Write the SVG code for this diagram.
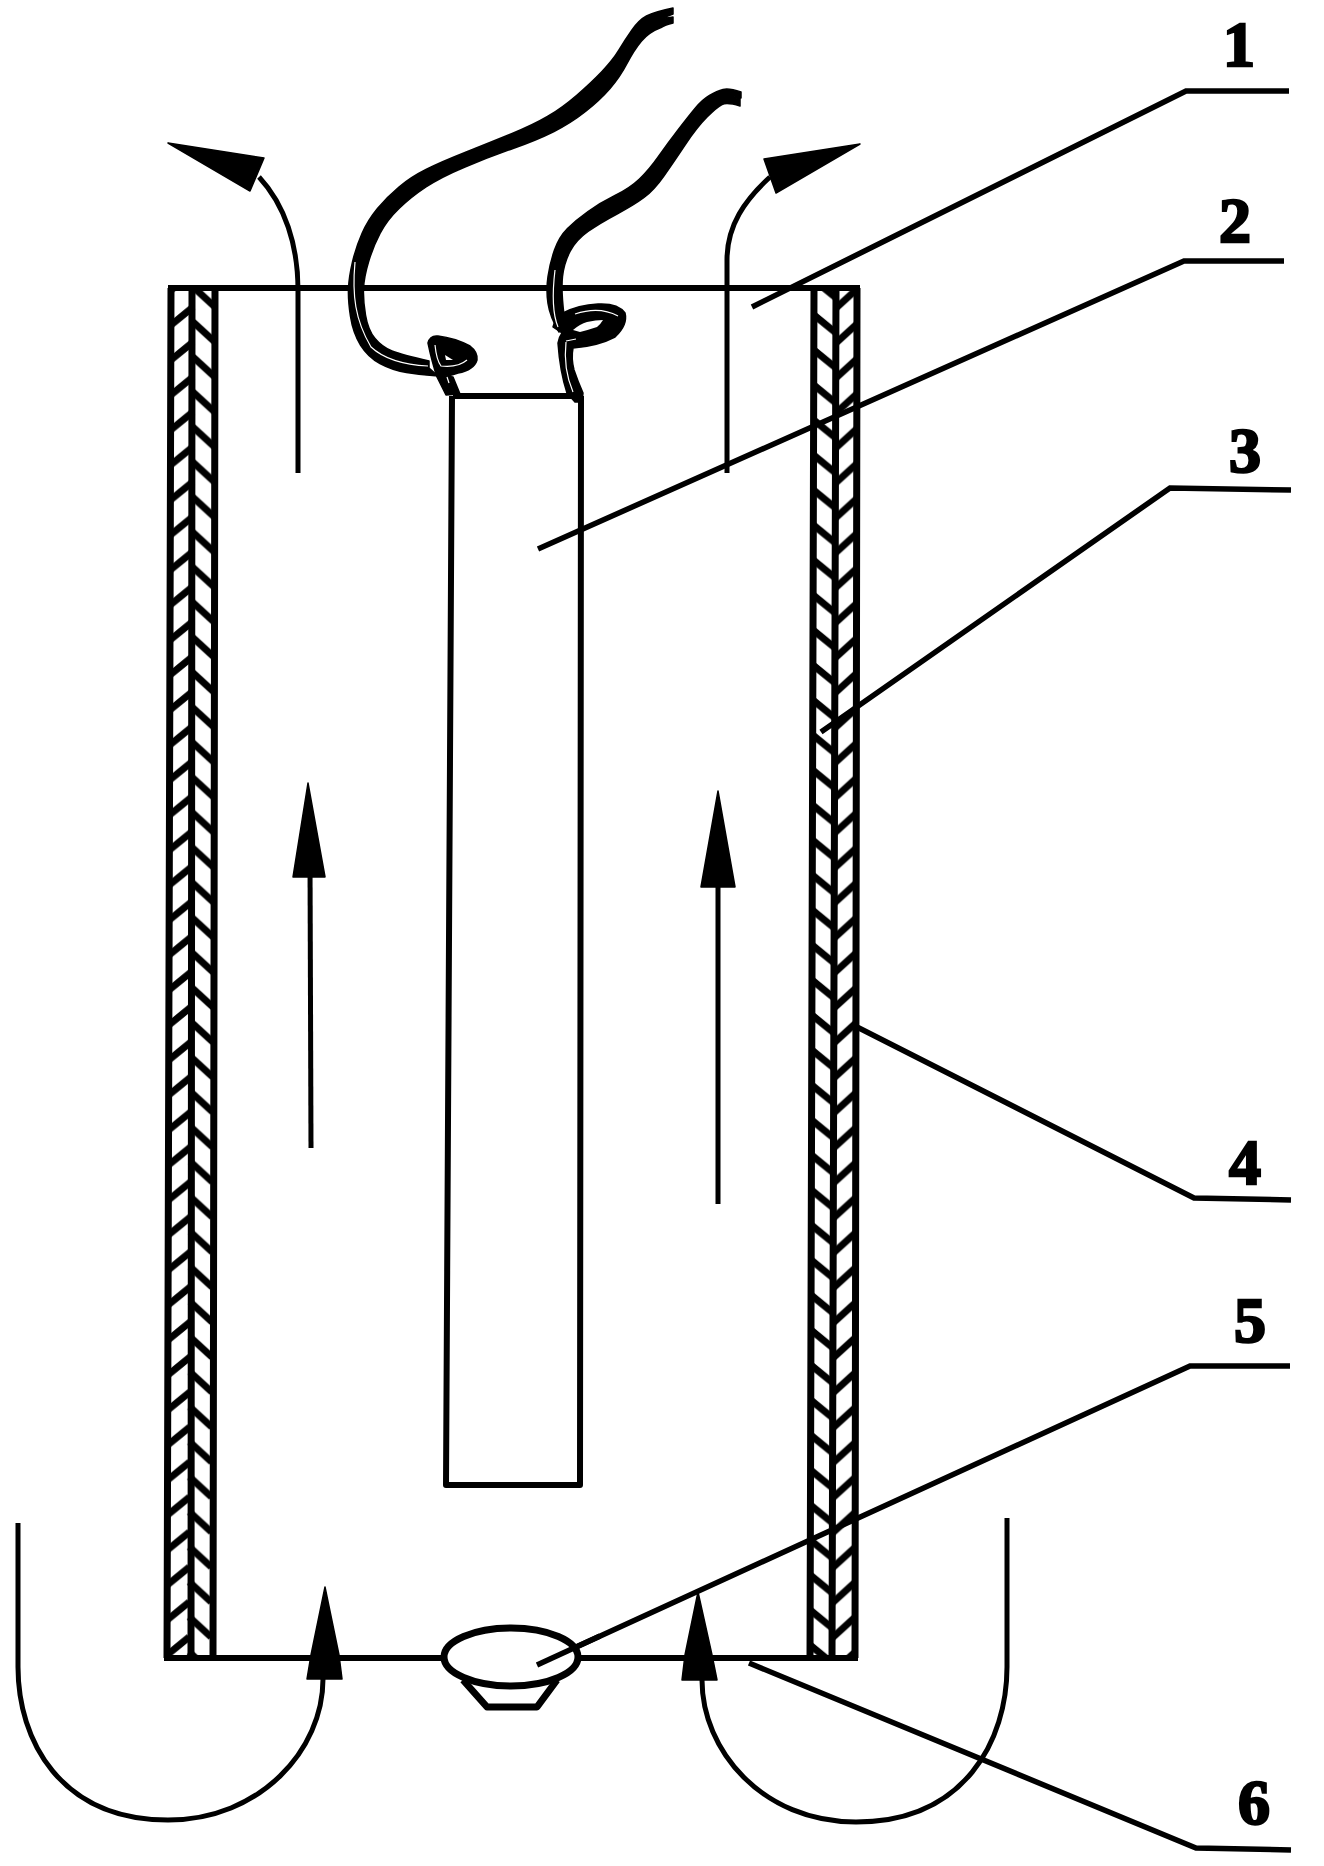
<svg xmlns="http://www.w3.org/2000/svg" width="1324" height="1866" viewBox="0 0 1324 1866">
<style>
.ln{fill:none;stroke:#000;stroke-width:6;stroke-linejoin:round}
.wall{fill:none;stroke:#000;stroke-width:7}
.thin{fill:none;stroke:#000;stroke-width:5}
.lead{fill:none;stroke:#000;stroke-width:5.5;stroke-linejoin:miter}
.head{fill:#000;stroke:#000;stroke-width:1.5;stroke-linejoin:round}
.flame{fill:#000;stroke:#000;stroke-width:1.5;stroke-linejoin:round}
.hair{fill:none;stroke:#fff;stroke-width:1.2}
.num{font-family:"Liberation Serif",serif;font-weight:700;font-size:64px;fill:#000;stroke:#000;stroke-width:2.5;text-anchor:middle}
</style>
<defs>
<pattern id="hatchL" patternUnits="userSpaceOnUse" width="44" height="35" patternTransform="translate(172,0) skewX(-0.17)">
<path d="M0 10L22-8M0 45L22 27M22 7L44 27" fill="none" stroke="#000" stroke-width="7"/>
</pattern>
<pattern id="hatchR" patternUnits="userSpaceOnUse" width="44" height="35" patternTransform="translate(815,0) skewX(-0.17)">
<path d="M0 0L22 18M0 35L22 53M22 28L44 8M22-7L44-27" fill="none" stroke="#000" stroke-width="7"/>
</pattern>
</defs>
<rect width="1324" height="1866" fill="#fff"/>
<g id="connectors">
<path class="thin" d="M298 473L298 290C298 245 285 205 259 177"/>
<path class="thin" d="M727 473L727 260C727 225 745 200 770 177"/>
<path class="thin" d="M311 1148L310 860"/>
<path class="thin" d="M718 1204L718 870"/>
<path class="thin" d="M18 1523L18 1667C18 1740 60 1820 168 1820C260 1820 323 1750 323 1679"/>
<path class="thin" d="M1007 1518L1007 1667C1007 1740 965 1822 856 1822C762 1822 702 1750 702 1680"/>
<path class="lead" d="M752 307L1186 91L1289 91"/>
<path class="lead" d="M538 549L1184 261L1284 261"/>
<path class="lead" d="M821 732L1170 488L1291 490"/>
<path class="lead" d="M857 1027L1194 1198L1291 1200"/>
<path class="lead" d="M537 1665L1190 1366L1290 1366"/>
<path class="lead" d="M749 1663L1196 1848L1291 1850"/>
<path class="head" d="M168 143L264 158L250 191Z"/>
<path class="head" d="M860 144L764 159L776 193Z"/>
<path class="head" d="M308 783L325 877L293 877Z"/>
<path class="head" d="M718 791L735 887L701 887Z"/>
<path class="head" d="M325 1587L339 1655L342 1679L307 1679L311 1655Z"/>
<path class="head" d="M698 1592L712 1655L717 1680L682 1680L685 1655Z"/>
</g>
<g id="wall-left">
<path d="M171 288L215 288L213 1658L167 1658Z" fill="url(#hatchL)"/>
<path class="wall" d="M171 288L167 1658M192 288L191 1658M215 288L213 1658"/>
</g>
<g id="wall-right">
<path d="M814 288L857 288L855 1658L810 1658Z" fill="url(#hatchR)"/>
<path class="wall" d="M814 288L810 1658M836 288L832 1658M857 288L855 1658"/>
</g>
<g id="tube">
<path class="ln" d="M168 288L860 288"/>
<path class="ln" d="M164 1658L858 1658"/>
</g>
<g id="inner-chimney">
<path class="ln" d="M453 396L581 396M452 396L446 1485L580 1485L581 396"/>
</g>
<g id="burner">
<path class="ln" style="stroke-width:7" d="M463 1680L487 1707L537 1707L557 1680"/>
<ellipse cx="511" cy="1657" rx="67" ry="29" fill="#fff" stroke="#000" stroke-width="7"/>
<path class="lead" d="M537 1665L600 1636"/>
</g>
<g id="flames">
<path class="flame" d="M673 8Q654 12 646.5 16Q639 20 632 30Q625 40 619 50Q613 60 602 71.5Q591 83 576.5 95.5Q562 108 547.5 116.5Q533 125 511 134Q489 143 465 152.5Q441 162 426 169.5Q411 177 399 187Q387 197 377.5 208.5Q368 220 362 233.5Q356 247 352.5 262Q349 277 348.5 288.5Q348 300 350.5 316.5Q353 333 360.5 345Q368 357 380 363.5Q392 370 406.5 372.5Q421 375 438 376L429 368L429 361Q402 355 392 351Q382 347 375 338.5Q368 330 365.5 315Q363 300 363.5 288.5Q364 277 368.5 262Q373 247 380 233.5Q387 220 399 208.5Q411 197 426 187Q441 177 465 167Q489 157 513 148.5Q537 140 554 131.5Q571 123 585.5 111.5Q600 100 610 88.5Q620 77 627 63.5Q634 50 641.5 41Q649 32 661 27.5Q665 25 673 23L673 17L660 19L673 14Z"/>
<path class="flame" d="M428 343Q430 335 438 336Q455 338 470 346Q478 352 477 360Q474 370 458 373Q450 376 445 376L453 377L460 394L446 395L437 377Q432 362 428 343Z"/>
<path class="flame" d="M741 92Q729 88 723 89.5Q717 91 709.5 95.5Q702 100 695 108.5Q688 117 678 130Q668 143 658.5 156.5Q649 170 639.5 179Q630 188 615 195.5Q600 203 588 211.5Q576 220 567.5 228.5Q559 237 554.5 250Q550 263 548 276.5Q546 290 548 303.5Q550 317 559 332L564 315Q561 290 562.5 276.5Q564 263 570 251.5Q576 240 588 231.5Q600 223 617 214Q634 205 644 197.5Q654 190 663.5 176.5Q673 163 685 145Q697 127 707 117Q717 107 722 104.5Q727 102 740 106L740 99L729 96L741 98Z"/>
<path class="flame" d="M563 313Q578 305 598 304Q618 303 625 313Q628 325 615 337Q598 346 573 348Q571 358 574 370Q578 382 583 393L582 402L575 402L567 393Q560 372 558 343Q559 337 562 333L553 327L556 318Z"/>
<path d="M445 355L453 360L446 360Z" fill="#fff"/>
<path d="M573 330Q580 324 587 322Q596 320 603 320Q600 325 597 327Q588 330 580 332Z" fill="#fff"/>
<path class="hair" d="M355 262C352 295 355 320 371 347C385 360 408 365 428 366M435 345C436 355 438 362 441 366C450 367 460 366 467 360M447 377L449 383"/>
<path class="hair" d="M555 270C552 295 553 315 558 327M575 314C590 309 605 309 618 316M566 342C564 360 567 378 573 392M566 341L576 339"/>
</g>
<g id="labels">
<text class="num" x="1239" y="66">1</text>
<text class="num" x="1235" y="242">2</text>
<text class="num" x="1245" y="472">3</text>
<text class="num" x="1245" y="1184">4</text>
<text class="num" x="1250" y="1342">5</text>
<text class="num" x="1254" y="1824">6</text>
</g>
</svg>
